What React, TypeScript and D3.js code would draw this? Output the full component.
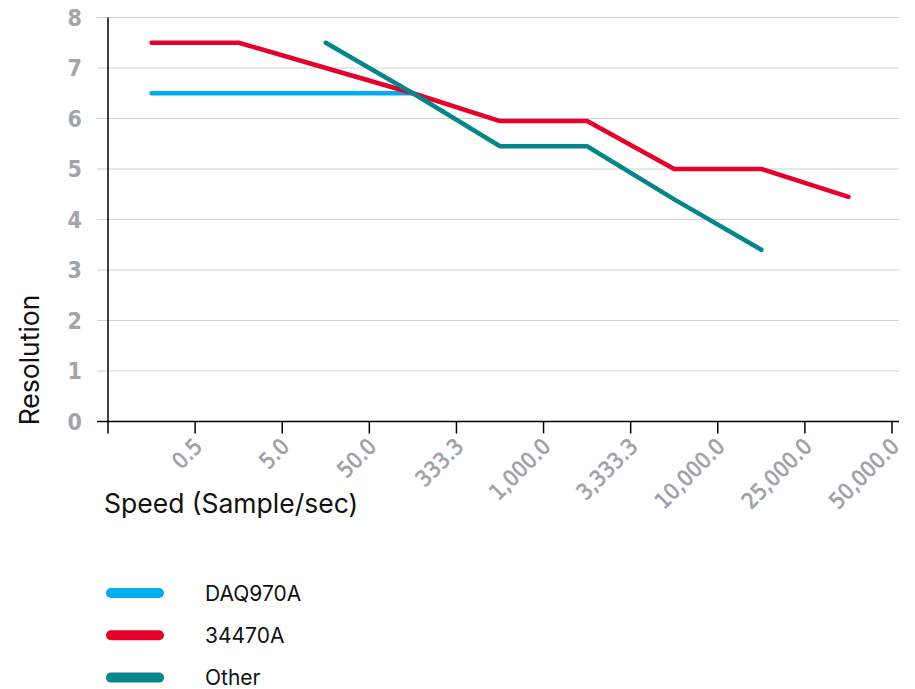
import React from 'react';
import * as d3 from 'd3';

// speed categories (Sample/sec)
const speeds = ['0.5', '5.0', '50.0', '333.3', '1,000.0', '3,333.3', '10,000.0', '25,000.0', '50,000.0'];
const yTicks = [0, 1, 2, 3, 4, 5, 6, 7, 8];

const daq970a = [6.5, 6.5, 6.5, 6.5, null, null, null, null, null];
const k34470a = [7.5, 7.5, 7.0, 6.5, 5.95, 5.95, 5.0, 5.0, 4.45];
const other = [null, null, 7.5, 6.5, 5.45, 5.45, 4.4, 3.4, null];

const seriesNames = ['DAQ970A', '34470A', 'Other'];
const seriesColors = ['#00aeef', '#e4002b', '#05868a'];

const W = 915;
const H = 689;
const left = 108;
const right = 892;
const top = 17.5;
const bottom = 421.5;

const tickFont = '"Liberation Sans Narrow", "DejaVu Sans Condensed", Roboto, sans-serif';
const titleFont = 'Inter, Roboto, sans-serif';

export default function App() {
  const x = d3.scaleBand<string>().domain(speeds).range([left, right]).padding(0);
  const y = d3.scaleLinear().domain([0, 8]).range([bottom, top]);
  const bw = x.bandwidth();

  const line = d3
    .line<number | null>()
    .defined(d => d != null)
    .x((_, i) => (x(speeds[i]) as number) + bw / 2)
    .y(d => y(d as number));

  const all = [daq970a, k34470a, other];

  return (
    <svg width={W} height={H} style={{ position: 'absolute', left: 0, top: 0, background: '#fff' }}>
      {/* grid */}
      {yTicks.map(t => (
        <g key={t}>
          <line x1={97} x2={899} y1={y(t)} y2={y(t)} stroke={t === 0 ? '#000' : '#d0d0d0'} strokeWidth={t === 0 ? 1.5 : 1.2} />
          <text x={82} y={y(t)} dy="0.35em" textAnchor="end" fill="#a3a3ab" fontSize={23} fontWeight={700} fontFamily={tickFont}>
            {t}
          </text>
        </g>
      ))}
      {/* y axis line */}
      <line x1={left} x2={left} y1={top} y2={bottom + 12} stroke="#000" strokeWidth={1.5} />
      {/* x ticks and labels */}
      {speeds.map(s => {
        const tx = (x(s) as number) + bw;
        return (
          <g key={s}>
            <line x1={tx} x2={tx} y1={bottom} y2={bottom + 12} stroke="#000" strokeWidth={1.5} />
            <text
              transform={`translate(${tx + 3},${bottom + 21}) rotate(-45)`}
              textAnchor="end"
              dy="0.35em"
              fill="#a0a0a8"
              stroke="#a0a0a8"
              strokeWidth={0.6}
              fontSize={22}
              fontWeight={400}
              fontFamily={tickFont}
            >
              {s}
            </text>
          </g>
        );
      })}
      {/* series */}
      {all.map((d, i) => (
        <path key={i} d={line(d) || ''} fill="none" stroke={seriesColors[i]} strokeWidth={4.5} strokeLinecap="round" strokeLinejoin="round" />
      ))}
      {/* axis titles */}
      <text transform="translate(39,360) rotate(-90)" textAnchor="middle" fontSize={26.5} fontFamily={titleFont} fill="#111">
        Resolution
      </text>
      <text x={104} y={513} fontSize={26.5} fontFamily={titleFont} fill="#111">
        Speed (Sample/sec)
      </text>
      {/* legend */}
      {seriesNames.map((n, i) => (
        <g key={n} transform={`translate(0,${593 + i * 42.3})`}>
          <line x1={111} x2={159} y1={0} y2={0} stroke={seriesColors[i]} strokeWidth={10} strokeLinecap="round" />
          <text x={205} y={0} dy="0.36em" fontSize={21} fontFamily={titleFont} fill="#111">
            {n}
          </text>
        </g>
      ))}
    </svg>
  );
}
